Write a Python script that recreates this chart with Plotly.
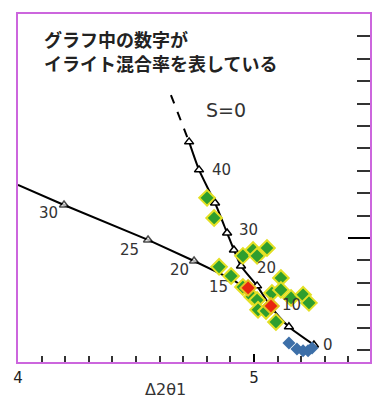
import plotly.graph_objects as go

# ---- data ----
# S=0 curve (illite %), x = Δ2θ1, y = right axis value
s0_pct = [45, 40, 35, 30, 25, 20, 15, 10, 5, 0]
s0_x = [4.725, 4.767, 4.835, 4.886, 4.915, 4.945, 5.013, 5.072, 5.148, 5.254]
s0_y = [6.429, 6.304, 6.156, 6.022, 5.946, 5.875, 5.786, 5.692, 5.603, 5.522]
s0_dash_x = [4.648, 4.725]
s0_dash_y = [6.638, 6.429]
s0_label_pct = [40, 30, 20, 10, 0]

# second curve
c2_pct = [None, 30, 25, 20, 15, None]
c2_x = [4.0, 4.195, 4.551, 4.746, 4.903, 4.987]
c2_y = [6.237, 6.147, 5.991, 5.897, 5.817, 5.763]

# samples
green_x = [4.801, 4.831, 4.996, 5.055, 4.953, 5.013, 4.852, 4.903, 4.953, 5.114,
           5.076, 5.114, 5.157, 5.208, 5.233, 4.992, 5.013, 5.017, 5.051, 5.093]
green_y = [6.179, 6.089, 5.946, 5.955, 5.920, 5.920, 5.871, 5.830, 5.781, 5.821,
           5.754, 5.768, 5.732, 5.746, 5.710, 5.737, 5.723, 5.679, 5.674, 5.625]
red_x = [4.975, 5.072]
red_y = [5.777, 5.696]
blue_x = [5.148, 5.182, 5.208, 5.229, 5.246]
blue_y = [5.531, 5.504, 5.496, 5.496, 5.509]

note_lines = ["グラフ中の数字が", "イライト混合率を表している"]
y_tick_vals = [6, 7]

x_range = [4.0, 5.4915]
y_range = [5.446, 7.0]

frame_color = "#cc66dd"

fig = go.Figure()

fig.add_trace(go.Scatter(x=s0_dash_x, y=s0_dash_y, mode="lines",
                         line=dict(color="black", width=2, dash="dash"),
                         showlegend=False, hoverinfo="skip"))
fig.add_trace(go.Scatter(x=s0_x, y=s0_y, mode="lines+markers",
                         line=dict(color="black", width=2, shape="spline", smoothing=0.6),
                         marker=dict(symbol="triangle-up", size=8, color="white",
                                     line=dict(color="black", width=1.5)),
                         showlegend=False))
c2_sym = ["circle" if p is None else "triangle-up" for p in c2_pct]
c2_size = [0 if p is None else 8 for p in c2_pct]
fig.add_trace(go.Scatter(x=c2_x, y=c2_y, mode="lines+markers",
                         line=dict(color="black", width=2),
                         marker=dict(symbol=c2_sym, size=c2_size, color="white",
                                     line=dict(color="black", width=1.5)),
                         showlegend=False))

fig.add_trace(go.Scatter(x=green_x, y=green_y, mode="markers",
                         marker=dict(symbol="diamond", size=12, color="#2e9e2e",
                                     line=dict(color="#e4e024", width=2)),
                         showlegend=False))
fig.add_trace(go.Scatter(x=red_x, y=red_y, mode="markers",
                         marker=dict(symbol="diamond", size=12, color="#e82510",
                                     line=dict(color="#e6c020", width=2)),
                         showlegend=False))
fig.add_trace(go.Scatter(x=blue_x, y=blue_y, mode="markers",
                         marker=dict(symbol="diamond", size=10, color="#3d6fa8"),
                         showlegend=False))

lab_font = dict(family="DejaVu Sans", size=15, color="#333333")
# labels on S=0 curve (to the right)
s0_shift = {40: (22, 0), 30: (21, 3), 20: (25, -2), 10: (20, 2), 0: (14, 0)}
for p, x, y in zip(s0_pct, s0_x, s0_y):
    if p in s0_label_pct:
        dx, dy = s0_shift[p]
        fig.add_annotation(x=x, y=y, text=str(p), showarrow=False, font=lab_font,
                           xshift=dx, yshift=dy)
c2_shift = {30: (-16, -8), 25: (-19, -10), 20: (-15, -9), 15: (-13, -8)}
for p, x, y in zip(c2_pct, c2_x, c2_y):
    if p is not None:
        dx, dy = c2_shift[p]
        fig.add_annotation(x=x, y=y, text=str(p), showarrow=False, font=lab_font,
                           xshift=dx, yshift=dy)

for i, line in enumerate(note_lines):
    fig.add_annotation(xref="paper", yref="paper", x=0.068, y=0.928, xanchor="left",
                       yanchor="middle", yshift=-23.5 * i, showarrow=False,
                       text="<b>" + line + "</b>",
                       font=dict(family="Noto Sans CJK JP", size=18, color="#222222"))
fig.add_annotation(xref="paper", yref="paper", x=0.591, y=0.724, showarrow=False,
                   xanchor="center", yanchor="middle",
                   text="S=0", font=dict(family="DejaVu Sans", size=19, color="#333333"))
fig.add_annotation(xref="paper", yref="paper", x=0.418, y=-0.078, showarrow=False,
                   xanchor="center", yanchor="middle",
                   text="Δ2θ1", font=dict(family="DejaVu Sans", size=16, color="#333333"))

# right-hand axis labels (rotated, just outside the frame)
for v in y_tick_vals:
    fig.add_annotation(xref="paper", yref="y", x=1.0, y=v, xanchor="left",
                       yanchor="middle", xshift=1, showarrow=False, textangle=90,
                       text=str(v),
                       font=dict(family="DejaVu Sans", size=11, color="#222222"))

fig.update_xaxes(range=x_range, showgrid=False, zeroline=False, automargin=False,
                 showline=True, linecolor=frame_color, linewidth=2, mirror=True,
                 ticks="inside", tick0=0, dtick=1, ticklen=8, tickwidth=2, tickcolor="black",
                 minor=dict(ticks="inside", dtick=0.1, ticklen=6, tickwidth=2,
                            tickcolor="#333333", showgrid=False),
                 ticklabelstandoff=1,
                 tickfont=dict(family="DejaVu Sans", size=15, color="#222222"))
fig.update_yaxes(range=y_range, side="right", showgrid=False, zeroline=False,
                 automargin=False, showticklabels=False,
                 showline=True, linecolor=frame_color, linewidth=2, mirror=True,
                 ticks="inside", tick0=0, dtick=1, ticklen=22, tickwidth=2, tickcolor="black",
                 minor=dict(ticks="inside", dtick=0.1, ticklen=13, tickwidth=2,
                            tickcolor="#333333", showgrid=False))

# page body adds an 8px offset; size figure to fill the 383x400 window
fig.update_layout(width=375, height=392,
                  margin=dict(l=10, r=13, t=6, b=38),
                  plot_bgcolor="white", paper_bgcolor="white",
                  showlegend=False)

fig.write_html("out.html")
